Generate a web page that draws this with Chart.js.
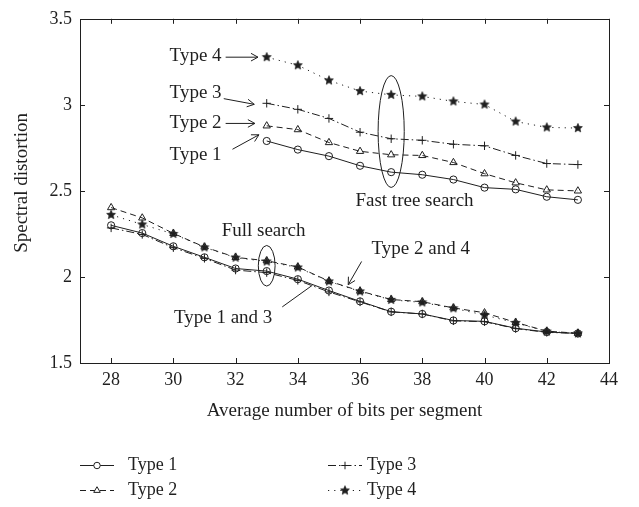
<!DOCTYPE html>
<html>
<head>
<meta charset="utf-8">
<script src="https://cdn.jsdelivr.net/npm/chart.js@4.4.1/dist/chart.umd.min.js"></script>
<style>
  html, body { margin: 0; padding: 0; background: #fff; }
  #wrap { width: 639px; height: 507px; position: relative; }
</style>
</head>
<body>
<div id="wrap"><canvas id="c" width="639" height="507"></canvas></div>
<script>
// Average number of bits per segment
const bitsFull = [28, 29, 30, 31, 32, 33, 34, 35, 36, 37, 38, 39, 40, 41, 42, 43];
const bitsFast = [33, 34, 35, 36, 37, 38, 39, 40, 41, 42, 43];

// Spectral distortion, full search
const fullType1 = [2.300, 2.255, 2.178, 2.114, 2.049, 2.034, 1.987, 1.921, 1.858, 1.798, 1.785, 1.747, 1.742, 1.702, 1.680, 1.672];
const fullType2 = [2.403, 2.343, 2.253, 2.174, 2.114, 2.094, 2.058, 1.976, 1.918, 1.869, 1.856, 1.820, 1.792, 1.736, 1.685, 1.673];
const fullType3 = [2.285, 2.247, 2.170, 2.108, 2.040, 2.025, 1.980, 1.913, 1.855, 1.797, 1.785, 1.745, 1.740, 1.700, 1.678, 1.672];
const fullType4 = [2.361, 2.305, 2.250, 2.172, 2.112, 2.090, 2.055, 1.974, 1.916, 1.867, 1.852, 1.818, 1.779, 1.733, 1.683, 1.672];

// Spectral distortion, fast tree search
const fastType1 = [2.790, 2.740, 2.702, 2.646, 2.609, 2.594, 2.566, 2.519, 2.509, 2.466, 2.448];
const fastType2 = [2.878, 2.856, 2.781, 2.730, 2.710, 2.706, 2.665, 2.600, 2.547, 2.506, 2.500];
const fastType3 = [3.009, 2.974, 2.921, 2.841, 2.803, 2.794, 2.771, 2.762, 2.706, 2.659, 2.653];
const fastType4 = [3.277, 3.230, 3.142, 3.080, 3.058, 3.049, 3.020, 3.002, 2.903, 2.869, 2.865];

const seriesNames = ['Type 1', 'Type 2', 'Type 3', 'Type 4'];
const xTicks = [28, 30, 32, 34, 36, 38, 40, 42, 44];
const yTicks = [1.5, 2, 2.5, 3, 3.5];

const INK = '#1f1f1f';
const SERIF = '"Liberation Serif", "DejaVu Serif", serif';

// filled five-point star marker
function makeStar(r) {
  const size = Math.ceil(r * 2 + 2);
  const cv = document.createElement('canvas');
  cv.width = size; cv.height = size;
  const g = cv.getContext('2d');
  const c = size / 2;
  g.beginPath();
  for (let i = 0; i < 10; i++) {
    const rad = i % 2 === 0 ? r : r * 0.45;
    const a = -Math.PI / 2 + i * Math.PI / 5;
    const px = c + rad * Math.cos(a), py = c + rad * Math.sin(a);
    if (i === 0) g.moveTo(px, py); else g.lineTo(px, py);
  }
  g.closePath();
  g.fillStyle = INK; g.fill();
  g.lineWidth = 0.8; g.strokeStyle = INK; g.stroke();
  return cv;
}
const starMark = makeStar(4.6);

// line and marker style per type
const styles = [
  { pointStyle: 'circle',   borderDash: [],             radius: 3.6 },
  { pointStyle: 'triangle', borderDash: [6, 4],         radius: 4.2 },
  { pointStyle: 'cross',    borderDash: [8, 3, 1.5, 3], radius: 4.2 },
  { pointStyle: starMark,   borderDash: [1.2, 5],       radius: 4.6 }
];

const fullSeries = [fullType1, fullType2, fullType3, fullType4];
const fastSeries = [fastType1, fastType2, fastType3, fastType4];

function makeSet(name, xs, ys, st, group) {
  return {
    label: name,
    group: group,
    data: xs.map((x, i) => ({ x: x, y: ys[i] })),
    borderColor: INK,
    backgroundColor: 'rgba(0,0,0,0)',
    borderWidth: 1,
    borderDash: st.borderDash,
    pointStyle: st.pointStyle,
    pointRadius: st.radius,
    pointHoverRadius: st.radius,
    pointBorderColor: INK,
    pointBackgroundColor: 'rgba(0,0,0,0)',
    pointBorderWidth: 1,
    tension: 0,
    fill: false
  };
}

const datasets = [];
seriesNames.forEach((n, i) => datasets.push(makeSet(n, bitsFull, fullSeries[i], styles[i], 'full')));
seriesNames.forEach((n, i) => datasets.push(makeSet(n, bitsFast, fastSeries[i], styles[i], 'fast')));

// callouts placed in data units
const notes = [
  { text: 'Type 4', x: 31.55, y: 3.285, align: 'right' },
  { text: 'Type 3', x: 31.55, y: 3.07, align: 'right' },
  { text: 'Type 2', x: 31.55, y: 2.895, align: 'right' },
  { text: 'Type 1', x: 31.55, y: 2.71, align: 'right' },
  { text: 'Fast tree search', x: 37.75, y: 2.44, align: 'center' },
  { text: 'Full search', x: 32.9, y: 2.265, align: 'center' },
  { text: 'Type 2 and 4', x: 37.95, y: 2.165, align: 'center' },
  { text: 'Type 1 and 3', x: 31.6, y: 1.762, align: 'center' }
];
const arrows = [
  { from: [31.68, 3.277], to: [32.72, 3.277], head: true },
  { from: [31.62, 3.036], to: [32.6, 3.003], head: true },
  { from: [31.68, 2.892], to: [32.62, 2.892], head: true },
  { from: [31.9, 2.742], to: [32.75, 2.826], head: true },
  { from: [36.05, 2.09], to: [35.62, 1.955], head: true },
  { from: [33.5, 1.826], to: [34.47, 1.952], head: false }
];
const rings = [
  { x: 37, y: 2.845, rx: 0.42, ry: 0.325 },
  { x: 33, y: 2.065, rx: 0.27, ry: 0.118 }
];

const decorations = {
  id: 'decorations',
  afterDatasetsDraw(chart) {
    const { ctx, chartArea: a, scales: { x, y } } = chart;
    ctx.save();
    ctx.strokeStyle = INK;
    ctx.fillStyle = INK;
    ctx.lineWidth = 1;
    ctx.setLineDash([]);

    // frame and inward ticks
    ctx.strokeRect(Math.round(a.left) + 0.5, Math.round(a.top) + 0.5,
                   Math.round(a.right - a.left), Math.round(a.bottom - a.top));
    const tl = 5;
    ctx.beginPath();
    xTicks.forEach(v => {
      const px = Math.round(x.getPixelForValue(v)) + 0.5;
      ctx.moveTo(px, a.bottom); ctx.lineTo(px, a.bottom - tl);
      ctx.moveTo(px, a.top); ctx.lineTo(px, a.top + tl);
    });
    yTicks.forEach(v => {
      const py = Math.round(y.getPixelForValue(v)) + 0.5;
      ctx.moveTo(a.left, py); ctx.lineTo(a.left + tl, py);
      ctx.moveTo(a.right, py); ctx.lineTo(a.right - tl, py);
    });
    ctx.stroke();

    // ellipses
    rings.forEach(r => {
      const cx = x.getPixelForValue(r.x), cy = y.getPixelForValue(r.y);
      const rx = Math.abs(x.getPixelForValue(r.x + r.rx) - cx);
      const ry = Math.abs(y.getPixelForValue(r.y + r.ry) - cy);
      ctx.beginPath();
      ctx.ellipse(cx, cy, rx, ry, 0, 0, Math.PI * 2);
      ctx.stroke();
    });

    // arrows
    arrows.forEach(ar => {
      const x0 = x.getPixelForValue(ar.from[0]), y0 = y.getPixelForValue(ar.from[1]);
      const x1 = x.getPixelForValue(ar.to[0]), y1 = y.getPixelForValue(ar.to[1]);
      ctx.beginPath();
      ctx.moveTo(x0, y0); ctx.lineTo(x1, y1);
      if (ar.head) {
        const ang = Math.atan2(y1 - y0, x1 - x0), hl = 8, hw = 0.5;
        ctx.moveTo(x1 - hl * Math.cos(ang - hw), y1 - hl * Math.sin(ang - hw));
        ctx.lineTo(x1, y1);
        ctx.lineTo(x1 - hl * Math.cos(ang + hw), y1 - hl * Math.sin(ang + hw));
      }
      ctx.stroke();
    });

    // callout text
    ctx.font = '19px ' + SERIF;
    ctx.textBaseline = 'middle';
    notes.forEach(n => {
      ctx.textAlign = n.align;
      ctx.fillText(n.text, x.getPixelForValue(n.x), y.getPixelForValue(n.y));
    });

    // axis titles
    ctx.font = '19px ' + SERIF;
    ctx.textAlign = 'center';
    ctx.fillText('Average number of bits per segment', (a.left + a.right) / 2, 411);
    ctx.save();
    ctx.translate(22, (a.top + a.bottom) / 2 - 8);
    ctx.rotate(-Math.PI / 2);
    ctx.fillText('Spectral distortion', 0, 0);
    ctx.restore();

    // legend: two columns of line samples with hollow markers
    const cols = [{ sx: 80, tx: 128 }, { sx: 328, tx: 367 }];
    const rows = [465, 490];
    const order = [[0, 0, 0], [1, 0, 1], [2, 1, 0], [3, 1, 1]];
    ctx.font = '18px ' + SERIF;
    ctx.textAlign = 'left';
    order.forEach(([si, ci, ri]) => {
      const ds = chart.data.datasets[si];
      const c = cols[ci], ry = rows[ri] + 0.5;
      ctx.beginPath();
      ctx.setLineDash(ds.borderDash);
      ctx.moveTo(c.sx, ry); ctx.lineTo(c.sx + 34, ry);
      ctx.stroke();
      ctx.setLineDash([]);
      ctx.fillStyle = '#ffffff';
      Chart.helpers.drawPoint(ctx, {
        pointStyle: ds.pointStyle, radius: ds.pointRadius * 0.9, borderWidth: 1, rotation: 0
      }, c.sx + 17, ry);
      ctx.fillStyle = INK;
      ctx.fillText(seriesNames[si], c.tx, rows[ri]);
    });
    ctx.restore();
  }
};

new Chart(document.getElementById('c'), {
  type: 'line',
  data: { datasets: datasets },
  options: {
    responsive: false,
    animation: false,
    events: [],
    layout: { padding: { left: 0, right: 30, top: 7, bottom: 0 } },
    plugins: { legend: { display: false }, tooltip: { enabled: false } },
    scales: {
      x: {
        type: 'linear', min: 27, max: 44,
        afterBuildTicks: s => { s.ticks = xTicks.map(v => ({ value: v })); },
        afterFit: s => { s.height = 144; },
        grid: { display: false, drawTicks: false },
        border: { display: false },
        ticks: { color: INK, padding: 6, maxRotation: 0, font: { family: SERIF, size: 18 } }
      },
      y: {
        type: 'linear', min: 1.5, max: 3.5,
        afterBuildTicks: s => { s.ticks = yTicks.map(v => ({ value: v })); },
        afterFit: s => { s.width = 80; },
        grid: { display: false, drawTicks: false },
        border: { display: false },
        ticks: { color: INK, padding: 8, font: { family: SERIF, size: 18 },
                 callback: v => String(v) }
      }
    }
  },
  plugins: [decorations]
});
</script>
</body>
</html>
